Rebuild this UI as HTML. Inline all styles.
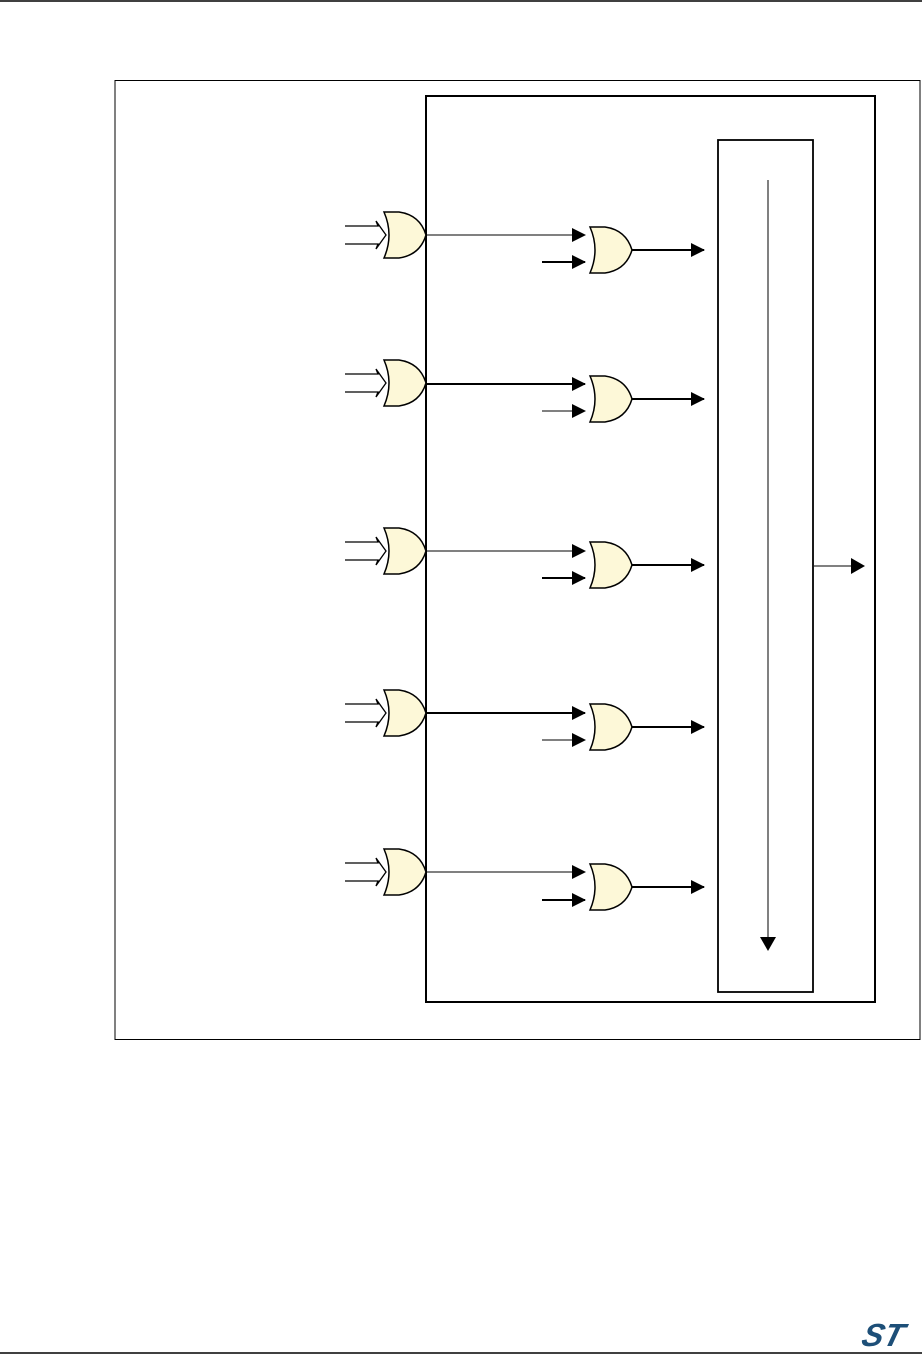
<!DOCTYPE html>
<html><head><meta charset="utf-8"><style>
html,body{margin:0;padding:0;background:#fff;}
svg{display:block;}
</style></head><body>
<svg width="922" height="1361" viewBox="0 0 922 1361" xmlns="http://www.w3.org/2000/svg">
<defs>
<marker id="ah" markerWidth="14" markerHeight="14" refX="13" refY="7" orient="auto" markerUnits="userSpaceOnUse">
<path d="M0,0 L14,7 L0,14 Z" fill="#000"/>
</marker>
<marker id="ahb" markerWidth="14" markerHeight="16" refX="13" refY="8" orient="auto" markerUnits="userSpaceOnUse">
<path d="M0,0 L14,8 L0,16 Z" fill="#000"/>
</marker>
<path id="g" d="M0,-23 Q10,0 0,23 L15,23 Q36,20 42,0 Q36,-20 15,-23 Z" fill="#fdf8d8" stroke="#000" stroke-width="1.5"/>
<path id="hin" d="M-40,-9 L-7,-9 L-9,-14 L1,0 L-9,14 L-7,9 L-40,9" fill="none" stroke="#000" stroke-width="1.3"/>
</defs>
<line x1="0" y1="1" x2="922" y2="1" stroke="#000" stroke-width="1.5"/>
<line x1="0" y1="1353" x2="922" y2="1353" stroke="#000" stroke-width="1.5"/>
<rect x="115" y="80.5" width="805" height="959" fill="none" stroke="#000" stroke-width="1"/>
<rect x="426" y="96" width="449" height="906" fill="none" stroke="#000" stroke-width="2"/>
<rect x="718" y="140" width="95" height="852" fill="none" stroke="#000" stroke-width="1.8"/>
<line x1="768" y1="180" x2="768" y2="950" stroke="#000" stroke-width="1" marker-end="url(#ahb)"/>
<line x1="814" y1="566" x2="864" y2="566" stroke="#000" stroke-width="1" marker-end="url(#ahb)"/>

<g>
<use href="#hin" transform="translate(385,235)"/><use href="#g" transform="translate(384,235)"/>
<line x1="426" y1="235" x2="585" y2="235" stroke="#000" stroke-width="1" marker-end="url(#ah)"/>
<line x1="542" y1="262" x2="585" y2="262" stroke="#000" stroke-width="2" marker-end="url(#ah)"/>
<use href="#g" transform="translate(590,250)"/>
<line x1="632" y1="250" x2="704" y2="250" stroke="#000" stroke-width="2" marker-end="url(#ah)"/>
</g>
<g>
<use href="#hin" transform="translate(385,383)"/><use href="#g" transform="translate(384,383)"/>
<line x1="426" y1="384" x2="585" y2="384" stroke="#000" stroke-width="2" marker-end="url(#ah)"/>
<line x1="542" y1="411" x2="585" y2="411" stroke="#000" stroke-width="1" marker-end="url(#ah)"/>
<use href="#g" transform="translate(590,399)"/>
<line x1="632" y1="399" x2="704" y2="399" stroke="#000" stroke-width="2" marker-end="url(#ah)"/>
</g>
<g>
<use href="#hin" transform="translate(385,551)"/><use href="#g" transform="translate(384,551)"/>
<line x1="426" y1="551" x2="585" y2="551" stroke="#000" stroke-width="1" marker-end="url(#ah)"/>
<line x1="542" y1="578" x2="585" y2="578" stroke="#000" stroke-width="2" marker-end="url(#ah)"/>
<use href="#g" transform="translate(590,565)"/>
<line x1="632" y1="565" x2="704" y2="565" stroke="#000" stroke-width="2" marker-end="url(#ah)"/>
</g>
<g>
<use href="#hin" transform="translate(385,713)"/><use href="#g" transform="translate(384,713)"/>
<line x1="426" y1="713" x2="585" y2="713" stroke="#000" stroke-width="2" marker-end="url(#ah)"/>
<line x1="542" y1="740" x2="585" y2="740" stroke="#000" stroke-width="1" marker-end="url(#ah)"/>
<use href="#g" transform="translate(590,727)"/>
<line x1="632" y1="727" x2="704" y2="727" stroke="#000" stroke-width="2" marker-end="url(#ah)"/>
</g>
<g>
<use href="#hin" transform="translate(385,872)"/><use href="#g" transform="translate(384,872)"/>
<line x1="426" y1="872" x2="585" y2="872" stroke="#000" stroke-width="1" marker-end="url(#ah)"/>
<line x1="542" y1="900" x2="585" y2="900" stroke="#000" stroke-width="2" marker-end="url(#ah)"/>
<use href="#g" transform="translate(590,887)"/>
<line x1="632" y1="887" x2="704" y2="887" stroke="#000" stroke-width="2" marker-end="url(#ah)"/>
</g>
<text x="0" y="0" transform="translate(860,1346) skewX(-15)" font-family="Liberation Sans, sans-serif" font-size="32" font-weight="bold" font-style="italic" fill="#1d4f78">ST</text>
</svg>
</body></html>
